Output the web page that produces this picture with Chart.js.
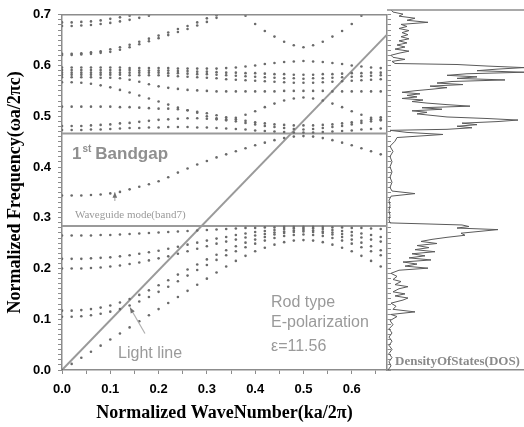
<!DOCTYPE html>
<html>
<head>
<meta charset="utf-8">
<script src="https://cdn.jsdelivr.net/npm/chart.js@4.4.1/dist/chart.umd.min.js"></script>
<style>
  html, body { margin: 0; padding: 0; background: #fff; }
  #wrap { position: relative; width: 524px; height: 427px; overflow: hidden; }
  #bands { position: absolute; left: 0; top: 0; }
  #dos { position: absolute; left: 387px; top: 0; }
</style>
</head>
<body>
<div id="wrap">
  <canvas id="bands" width="400" height="427"></canvas>
  <canvas id="dos" width="137" height="427"></canvas>
</div>
<script>
// wave numbers (ka/2pi) of the computed points
const waveK = [0, 0.02, 0.04, 0.06, 0.08, 0.10, 0.12, 0.14, 0.16, 0.18,
  0.20, 0.22, 0.24, 0.26, 0.28, 0.30, 0.32, 0.34, 0.36, 0.38,
  0.40, 0.42, 0.44, 0.46, 0.48, 0.50, 0.52, 0.54, 0.56, 0.58,
  0.60, 0.62, 0.64, 0.66];

// bands below the gap
const band1 = [0, .012, .024, .036, .048, .06, .072, .084, .096, .108, .12, .132, .144, .156, .168, .18, .192, .204, .215, .225, .234, .241, .247, .252, .255, .256, .255, .252, .247, .241, .234, .225, .215, .204];
const band2 = [.105, .105, .106, .108, .111, .115, .12, .127, .135, .144, .154, .164, .175, .186, .197, .207, .217, .226, .234, .242, .249, .255, .26, .264, .266, .267, .266, .264, .26, .255, .249, .242, .234, .226];
const band3 = [.117, .117, .118, .12, .123, .127, .133, .14, .148, .157, .167, .177, .188, .198, .208, .218, .227, .236, .244, .251, .257, .262, .267, .27, .272, .273, .272, .27, .267, .262, .257, .251, .244, .236];
const band4 = [.2, .2, .2, .201, .202, .204, .206, .209, .212, .216, .22, .224, .229, .234, .239, .244, .249, .253, .257, .261, .265, .268, .271, .273, .275, .276, .275, .273, .271, .268, .265, .261, .257, .253];
const band5 = [.219, .219, .219, .22, .221, .222, .224, .226, .229, .232, .235, .239, .243, .247, .251, .255, .259, .262, .266, .269, .272, .274, .276, .278, .279, .279, .279, .278, .276, .274, .272, .269, .266, .262];
const band6 = [.265, .265, .265, .265, .266, .266, .267, .268, .269, .27, .271, .272, .273, .274, .275, .276, .277, .278, .279, .28, .28, .281, .281, .282, .282, .282, .282, .282, .281, .281, .28, .28, .279, .278];
// waveguide mode inside the gap
const band7 = [.344, .344, .344, .345, .346, .348, .351, .356, .361, .366, .372, .38, .389, .397, .405, .412, .419, .425, .431, .437, .443, .448, .453, .457, .46, .461, .46, .457, .453, .448, .443, .437, .431, .425];
// bands above the gap
const band8 = [.473, .473, .473, .474, .474, .475, .476, .477, .477, .478, .478, .479, .479, .479, .478, .478, .477, .476, .475, .474, .472, .471, .47, .469, .468, .468, .468, .469, .47, .471, .472, .474, .475, .476];
const band9 = [.481, .481, .481, .482, .483, .484, .486, .487, .489, .491, .493, .494, .495, .496, .496, .495, .494, .492, .49, .487, .484, .481, .479, .477, .475, .474, .475, .477, .479, .481, .484, .487, .49, .492];
const band10 = [.519, .519, .519, .519, .519, .519, .518, .518, .517, .516, .515, .515, .514, .512, .509, .506, .502, .498, .494, .491, .488, .486, .484, .483, .482, .482, .482, .483, .484, .486, .488, .491, .494, .498];
const band11 = [.567, .567, .566, .564, .561, .557, .552, .547, .541, .535, .529, .523, .517, .512, .507, .5, .496, .494, .497, .503, .51, .518, .525, .531, .535, .537, .535, .531, .525, .518, .51, .503, .497, .494];
const band12 = [.577, .577, .577, .577, .576, .576, .575, .572, .568, .563, .559, .556, .554, .552, .551, .55, .549, .549, .549, .549, .549, .549, .549, .55, .55, .55, .55, .55, .549, .549, .549, .549, .549, .549];
const band13 = [.582, .582, .582, .582, .582, .582, .582, .581, .581, .581, .581, .58, .579, .578, .577, .576, .575, .573, .572, .571, .57, .569, .568, .567, .566, .566, .566, .567, .568, .569, .57, .571, .572, .573];
const band14 = [.586, .586, .586, .586, .586, .586, .586, .586, .586, .586, .586, .585, .585, .584, .583, .583, .582, .581, .58, .579, .578, .577, .576, .575, .575, .574, .575, .575, .576, .577, .578, .579, .58, .581];
const band15 = [.591, .591, .591, .591, .591, .591, .591, .591, .59, .59, .59, .59, .589, .589, .588, .588, .587, .586, .586, .585, .585, .584, .583, .583, .582, .582, .582, .583, .583, .584, .585, .585, .586, .586];
const band16 = [.596, .596, .596, .596, .596, .596, .596, .595, .595, .595, .595, .595, .594, .594, .594, .594, .594, .595, .596, .598, .6, .603, .605, .607, .608, .609, .608, .607, .605, .603, .6, .598, .596, .595];
const band17 = [.621, .621, .622, .623, .625, .627, .631, .636, .642, .648, .654, .66, .666, .672, .679, .686, .694];
const band18 = [.623, .623, .624, .626, .628, .632, .636, .641, .647, .653, .659, .665, .672, .678, .685, .693, .699];
const band19 = [null, null, null, null, null, null, null, null, null, null, null, null, null, null, null, null, null, null, null,
  .698, .682, .668, .657, .647, .64, .636, .64, .647, .657, .668, .682, .698];
const band20 = [.678, .678, .679, .68, .682, .684, .687, .69, .694, .698];
const band21 = [.685, .685, .686, .687, .689, .692, .695, .698];

const bandValues = [band1, band2, band3, band4, band5, band6, band7, band8, band9, band10, band11,
  band12, band13, band14, band15, band16, band17, band18, band19, band20, band21];

// band gap edges and light line
const gapEdges = [0.284, 0.466];
const kRange = [0, 0.673];
const lightLineK = [0, 0.673];
const lightLineF = [0, 0.661];

// density of states (arbitrary units) against frequency
const dosFreq = [0, .008, .016, .024, .032, .04, .048, .056, .064, .072,
  .08, .088, .096, .104, .108, .113, .118, .124, .13, .136,
  .14, .144, .148, .152, .158, .162, .166, .172, .176, .182,
  .188, .194, .198, .202, .206, .21, .214, .218, .222, .226,
  .23, .234, .238, .242, .246, .25, .254, .258, .262, .266,
  .27, .273, .276, .279, .282, .284, .286, .292, .3, .31,
  .32, .33, .338, .343, .348, .355, .365, .375, .385, .395,
  .405, .415, .425, .435, .445, .452, .458, .462, .466, .468,
  .471, .474, .477, .48, .483, .486, .489, .492, .495, .498,
  .501, .504, .507, .51, .513, .516, .519, .522, .525, .528,
  .531, .534, .537, .54, .543, .546, .549, .552, .555, .558,
  .561, .564, .567, .57, .573, .576, .579, .582, .585, .588,
  .591, .594, .596, .6, .604, .608, .612, .616, .62, .624,
  .628, .632, .636, .64, .644, .648, .652, .656, .66, .664,
  .668, .672, .676, .68, .684, .688, .692, .696, .7];
const dosValue = [1, 4, 2, 5, 2, 5, 2, 5, 2, 5,
  2, 6, 3, 10, 4, 28, 6, 9, 4, 16,
  21, 8, 18, 6, 12, 21, 8, 14, 6, 10,
  4, 12, 41, 18, 30, 16, 44, 22, 38, 25,
  48, 28, 42, 30, 50, 34, 45, 60, 78, 74,
  95, 111, 70, 82, 75, 40, 3, 2, 3, 2,
  3, 2, 4, 28, 5, 3, 5, 3, 5, 3,
  5, 3, 6, 3, 8, 10, 56, 20, 3, 60,
  85, 70, 90, 75, 110, 131, 100, 60, 45, 30,
  40, 25, 55, 35, 83, 60, 40, 25, 36, 15,
  30, 20, 33, 15, 28, 45, 60, 43, 76, 50,
  65, 118, 70, 90, 60, 80, 137, 90, 110, 137,
  100, 70, 8, 5, 18, 6, 4, 12, 22, 8,
  18, 10, 20, 12, 22, 14, 21, 15, 22, 12,
  20, 14, 41, 20, 28, 12, 16, 6, 4];

const sans = 'Arial, "Liberation Sans", sans-serif';
const serif = '"Times New Roman", "Liberation Serif", serif';
const frameColor = '#8c8c8c';
const isMajor = v => Math.abs(v * 10 - Math.round(v * 10)) < 1e-6;

const bandSets = bandValues.map(vals => ({
  data: vals.map((f, i) => f == null ? null : { x: waveK[i], y: f }).filter(p => p),
  showLine: false,
  pointRadius: 1.3,
  pointBorderWidth: 0,
  pointBackgroundColor: '#6a6a6a'
}));

const lineSet = (pts, color) => ({
  data: pts,
  showLine: true,
  pointRadius: 0,
  borderColor: color,
  borderWidth: 2
});

const topLine = {
  id: 'topLine',
  afterDatasetsDraw(chart) {
    const { ctx, chartArea } = chart;
    ctx.save();
    ctx.strokeStyle = frameColor;
    ctx.lineWidth = 1.5;
    ctx.beginPath();
    ctx.moveTo(chartArea.left, chartArea.top);
    ctx.lineTo(chartArea.right, chartArea.top);
    ctx.stroke();
    ctx.restore();
  }
};

function arrow(ctx, x1, y1, x2, y2) {
  const a = Math.atan2(y2 - y1, x2 - x1);
  ctx.beginPath();
  ctx.moveTo(x1, y1);
  ctx.lineTo(x2, y2);
  ctx.stroke();
  ctx.beginPath();
  ctx.moveTo(x2, y2);
  ctx.lineTo(x2 - 6 * Math.cos(a - 0.4), y2 - 6 * Math.sin(a - 0.4));
  ctx.lineTo(x2 - 6 * Math.cos(a + 0.4), y2 - 6 * Math.sin(a + 0.4));
  ctx.closePath();
  ctx.fill();
}

const bandNotes = {
  id: 'bandNotes',
  afterDraw(chart) {
    const { ctx } = chart;
    const X = v => chart.scales.x.getPixelForValue(v);
    const Y = v => chart.scales.y.getPixelForValue(v);
    ctx.save();
    ctx.textBaseline = 'middle';
    ctx.textAlign = 'left';
    ctx.fillStyle = '#8f8f8f';

    // 1st Bandgap
    let x = X(0.0206), y = Y(0.4258);
    ctx.font = 'bold 17px ' + sans;
    ctx.fillText('1', x, y);
    x += ctx.measureText('1').width + 1;
    ctx.font = 'bold 10px ' + sans;
    ctx.fillText('st', x, y - 5);
    x += ctx.measureText('st').width + 4;
    ctx.font = 'bold 17px ' + sans;
    ctx.fillText('Bandgap', x, y);

    ctx.fillStyle = '#9a9a9a';
    ctx.font = '11px ' + serif;
    ctx.fillText('Waveguide mode(band7)', X(0.0268), Y(0.3059));

    ctx.font = '16px ' + sans;
    ctx.fillText('Light line', X(0.1162), Y(0.0331));
    ctx.fillText('Rod type', X(0.4328), Y(0.1332));
    ctx.fillText('E-polarization', X(0.4328), Y(0.0943));
    ctx.fillText('\u03b5=11.56', X(0.4328), Y(0.0457));

    ctx.strokeStyle = '#b0b0b0';
    ctx.fillStyle = '#707070';
    ctx.lineWidth = 1.2;
    arrow(ctx, X(0.1718), Y(0.0719), X(0.1408), Y(0.1231));
    arrow(ctx, X(0.1094), Y(0.333), X(0.1094), Y(0.3505));
    ctx.restore();
  }
};

new Chart(document.getElementById('bands'), {
  type: 'scatter',
  data: {
    datasets: [
      ...bandSets,
      lineSet(lightLineK.map((k, i) => ({ x: k, y: lightLineF[i] })), '#9a9a9a'),
      ...gapEdges.map(g => lineSet(kRange.map(k => ({ x: k, y: g })), '#9a9a9a'))
    ]
  },
  options: {
    responsive: false,
    animation: false,
    layout: { padding: { top: 10, left: 0, right: 0, bottom: 0 } },
    plugins: { legend: { display: false }, tooltip: { enabled: false } },
    scales: {
      x: {
        type: 'linear',
        min: 0,
        max: 0.673,
        ticks: {
          stepSize: 0.05,
          includeBounds: false,
          autoSkip: false,
          maxRotation: 0,
          padding: 8,
          color: '#000',
          font: { family: sans, size: 13, weight: 'bold' },
          callback: v => isMajor(v) ? Number(v).toFixed(1) : ''
        },
        grid: { drawOnChartArea: false, color: frameColor, tickLength: 4 },
        border: { color: frameColor, width: 1.5 },
        title: {
          display: true,
          text: 'Normalized WaveNumber(ka/2\u03c0)',
          color: '#000',
          font: { family: serif, size: 18, weight: 'bold' },
          padding: { top: 0, bottom: 3 }
        },
        afterFit: s => { s.height = 57; }
      },
      y: {
        type: 'linear',
        min: 0,
        max: 0.7,
        ticks: {
          stepSize: 0.01,
          autoSkip: false,
          padding: 7,
          color: '#000',
          font: { family: sans, size: 13, weight: 'bold' },
          callback: v => isMajor(v) ? Number(v).toFixed(1) : ''
        },
        grid: { drawOnChartArea: false, color: frameColor, tickLength: 4 },
        border: { color: frameColor, width: 1.5 },
        title: {
          display: true,
          text: 'Normalized Frequency(\u03c9a/2\u03c0c)',
          color: '#000',
          font: { family: serif, size: 18, weight: 'bold' },
          padding: { top: 5, bottom: 0 }
        },
        afterFit: s => { s.width = 62; }
      },
      y2: {
        type: 'linear',
        position: 'right',
        min: 0,
        max: 0.7,
        ticks: { stepSize: 0.01, autoSkip: false, padding: 0, callback: () => '' },
        grid: { drawOnChartArea: false, color: frameColor, tickLength: 4 },
        border: { color: frameColor, width: 1.5 },
        afterFit: s => { s.width = 13; }
      }
    }
  },
  plugins: [topLine, bandNotes]
});

const dosNotes = {
  id: 'dosNotes',
  afterDraw(chart) {
    const { ctx } = chart;
    ctx.save();
    ctx.fillStyle = '#8a8a8a';
    ctx.font = 'bold 13px ' + serif;
    ctx.textBaseline = 'middle';
    ctx.fillText('DensityOfStates(DOS)', chart.scales.x.getPixelForValue(8), chart.scales.y.getPixelForValue(0.0165));
    ctx.restore();
  }
};

new Chart(document.getElementById('dos'), {
  type: 'scatter',
  data: {
    datasets: [{
      data: dosFreq.map((f, i) => ({ x: dosValue[i], y: f })),
      showLine: true,
      pointRadius: 0,
      borderColor: '#5a5a5a',
      borderWidth: 1
    }]
  },
  options: {
    responsive: false,
    animation: false,
    layout: { padding: { top: 10, left: 0, right: 0, bottom: 0 } },
    plugins: { legend: { display: false }, tooltip: { enabled: false } },
    scales: {
      x: {
        type: 'linear',
        min: 0,
        max: 137,
        ticks: { display: false },
        grid: { display: false },
        border: { color: frameColor, width: 1.5 },
        afterFit: s => { s.height = 57; }
      },
      y: { type: 'linear', min: 0, max: 0.7, display: false }
    }
  },
  plugins: [topLine, dosNotes]
});
</script>
</body>
</html>
